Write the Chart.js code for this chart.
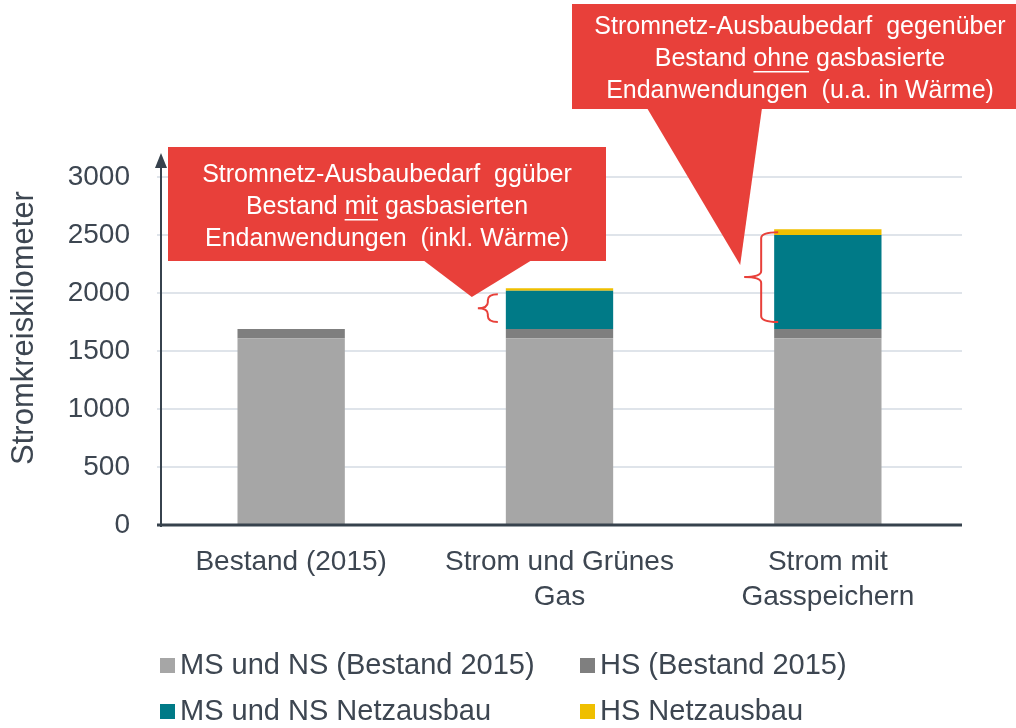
<!DOCTYPE html>
<html>
<head>
<meta charset="utf-8">
<script src="https://cdn.jsdelivr.net/npm/chart.js@4"></script>
<style>
  html, body { margin: 0; padding: 0; background: #ffffff; }
  #wrap { width: 1016px; height: 728px; position: relative; }
</style>
</head>
<body>
<div id="wrap"><canvas id="bar"></canvas></div>
<script>
// Daten
const kategorien = ["Bestand (2015)", ["Strom und Grünes", "Gas"], ["Strom mit", "Gasspeichern"]];
const serienNamen = ["MS und NS (Bestand 2015)", "HS (Bestand 2015)", "MS und NS Netzausbau", "HS Netzausbau"];
const msNsBestand = [1610, 1610, 1610];
const hsBestand = [80, 80, 80];
const msNsAusbau = [0, 330, 810];
const hsAusbau = [0, 20, 50];
const yTicks = [0, 500, 1000, 1500, 2000, 2500, 3000];

const farben = ["#a6a6a6", "#7f7f7f", "#007a87", "#efbf00"];
const textFarbe = "#3d4651";
const rot = "#e8403a";
const schrift = "'Liberation Sans', Arial, sans-serif";

const callouts = [
    { box: [168, 147, 606, 261], base: [423, 532], bar: 1, tipDx: -6, tipY: 297, cx: 387, y0: 175,
      lines: [[{t: "Stromnetz-Ausbaubedarf  ggüber"}], [{t: "Bestand "}, {t: "mit", u: true}, {t: " gasbasierten"}], [{t: "Endanwendungen  (inkl. Wärme)"}]] },
    { box: [572, 4, 1016, 109], base: [647, 762], bar: 2, tipDx: -4, tipY: 265, cx: 800, y0: 27,
      lines: [[{t: "Stromnetz-Ausbaubedarf  gegenüber"}], [{t: "Bestand "}, {t: "ohne", u: true}, {t: " gasbasierte"}], [{t: "Endanwendungen  (u.a. in Wärme)"}]] }
];

function drawBrace(ctx, xTip, xMid, yTop, yBot) {
    const xc = (xTip + xMid) / 2, ym = (yTop + yBot) / 2;
    const r = Math.min(6, (yBot - yTop) / 4);
    ctx.beginPath();
    ctx.moveTo(xTip, yTop);
    ctx.quadraticCurveTo(xc, yTop, xc, yTop + r);
    ctx.lineTo(xc, ym - r);
    ctx.quadraticCurveTo(xc, ym, xMid, ym);
    ctx.quadraticCurveTo(xc, ym, xc, ym + r);
    ctx.lineTo(xc, yBot - r);
    ctx.quadraticCurveTo(xc, yBot, xTip, yBot);
    ctx.stroke();
}

const extras = {
    id: "extras",
    afterDraw(chart) {
        const ctx = chart.ctx, area = chart.chartArea, y = chart.scales.y;
        ctx.save();

        // Achsen
        const ax = area.left + 4;
        ctx.strokeStyle = "#37424d";
        ctx.fillStyle = "#37424d";
        ctx.lineWidth = 2;
        ctx.beginPath();
        ctx.moveTo(ax, area.bottom + 2);
        ctx.lineTo(ax, 162);
        ctx.stroke();
        ctx.beginPath();
        ctx.moveTo(ax - 6, 168);
        ctx.lineTo(ax + 6, 168);
        ctx.lineTo(ax, 153);
        ctx.closePath();
        ctx.fill();
        ctx.lineWidth = 3;
        ctx.beginPath();
        ctx.moveTo(area.left, area.bottom);
        ctx.lineTo(area.right, area.bottom);
        ctx.stroke();

        // Achsentitel
        ctx.save();
        ctx.translate(24, 328);
        ctx.rotate(-Math.PI / 2);
        ctx.font = "31px " + schrift;
        ctx.fillStyle = textFarbe;
        ctx.textAlign = "center";
        ctx.textBaseline = "middle";
        ctx.fillText("Stromkreiskilometer", 0, 0);
        ctx.restore();

        // Klammern
        const bestandTop = y.getPixelForValue(msNsBestand[0] + hsBestand[0]);
        const braces = [];
        [1, 2].forEach(i => {
            const el = chart.getDatasetMeta(2).data[i];
            const total = msNsBestand[i] + hsBestand[i] + msNsAusbau[i] + hsAusbau[i];
            const left = el.x - el.width / 2;
            const tipX = i === 1 ? left - 8 : left + 4;
            const midX = i === 1 ? left - 28 : left - 30;
            const top = y.getPixelForValue(total) + (i === 1 ? 6 : 3);
            const bot = bestandTop - 7;
            braces[i] = {midX: midX};
            ctx.strokeStyle = rot;
            ctx.lineWidth = 2;
            drawBrace(ctx, tipX, midX, top, bot);
        });

        // Sprechblasen
        callouts.forEach(c => {
            const [x0, y0, x1, y1] = c.box;
            ctx.fillStyle = rot;
            ctx.fillRect(x0, y0, x1 - x0, y1 - y0);
            ctx.beginPath();
            ctx.moveTo(c.base[0], y1 - 1);
            ctx.lineTo(braces[c.bar].midX + c.tipDx, c.tipY);
            ctx.lineTo(c.base[1], y1 - 1);
            ctx.closePath();
            ctx.fill();
            ctx.font = "25px " + schrift;
            ctx.fillStyle = "#ffffff";
            ctx.textBaseline = "middle";
            ctx.textAlign = "left";
            c.lines.forEach((segs, li) => {
                const ly = c.y0 + li * 32;
                const total = segs.reduce((s, g) => s + ctx.measureText(g.t).width, 0);
                let x = c.cx - total / 2;
                segs.forEach(g => {
                    const w = ctx.measureText(g.t).width;
                    ctx.fillText(g.t, x, ly);
                    if (g.u) ctx.fillRect(x, ly + 12, w, 1.5);
                    x += w;
                });
            });
        });

        // Legende
        const pos = [[160, 665], [580, 665], [160, 711], [580, 711]];
        ctx.font = "29px " + schrift;
        ctx.textBaseline = "middle";
        ctx.textAlign = "left";
        chart.data.datasets.forEach((ds, i) => {
            const [lx, ly] = pos[i];
            ctx.fillStyle = ds.backgroundColor;
            ctx.fillRect(lx, ly - 7, 15, 15);
            ctx.fillStyle = textFarbe;
            ctx.fillText(ds.label, lx + 20, ly + 1);
        });
        ctx.restore();
    }
};

const ctx = document.getElementById("bar").getContext("2d");
new Chart(ctx, {
    type: "bar",
    data: {
        labels: kategorien,
        datasets: [
            { label: serienNamen[0], data: msNsBestand, backgroundColor: farben[0] },
            { label: serienNamen[1], data: hsBestand, backgroundColor: farben[1] },
            { label: serienNamen[2], data: msNsAusbau, backgroundColor: farben[2] },
            { label: serienNamen[3], data: hsAusbau, backgroundColor: farben[3] }
        ]
    },
    options: {
        responsive: true,
        maintainAspectRatio: false,
        animation: false,
        layout: { padding: { left: 0, right: 54, top: 177, bottom: 103 } },
        datasets: { bar: { barPercentage: 0.4, categoryPercentage: 1 } },
        plugins: { legend: { display: false }, tooltip: { enabled: false } },
        scales: {
            x: {
                stacked: true,
                grid: { display: false, drawTicks: false },
                border: { display: false },
                ticks: { color: textFarbe, font: { family: schrift, size: 28, lineHeight: 1.25 }, padding: 20, maxRotation: 0 },
                afterFit: scale => { scale.height = 100; }
            },
            y: {
                stacked: true,
                min: 0,
                max: 3000,
                afterBuildTicks: scale => { scale.ticks = yTicks.map(v => ({ value: v })); },
                grid: { color: "#dfe4ea", lineWidth: 2, drawTicks: false },
                border: { display: false },
                ticks: { color: textFarbe, font: { family: schrift, size: 28 }, padding: 27, callback: v => String(v) },
                afterFit: scale => { scale.width = 157; }
            }
        }
    },
    plugins: [extras]
});
</script>
</body>
</html>
